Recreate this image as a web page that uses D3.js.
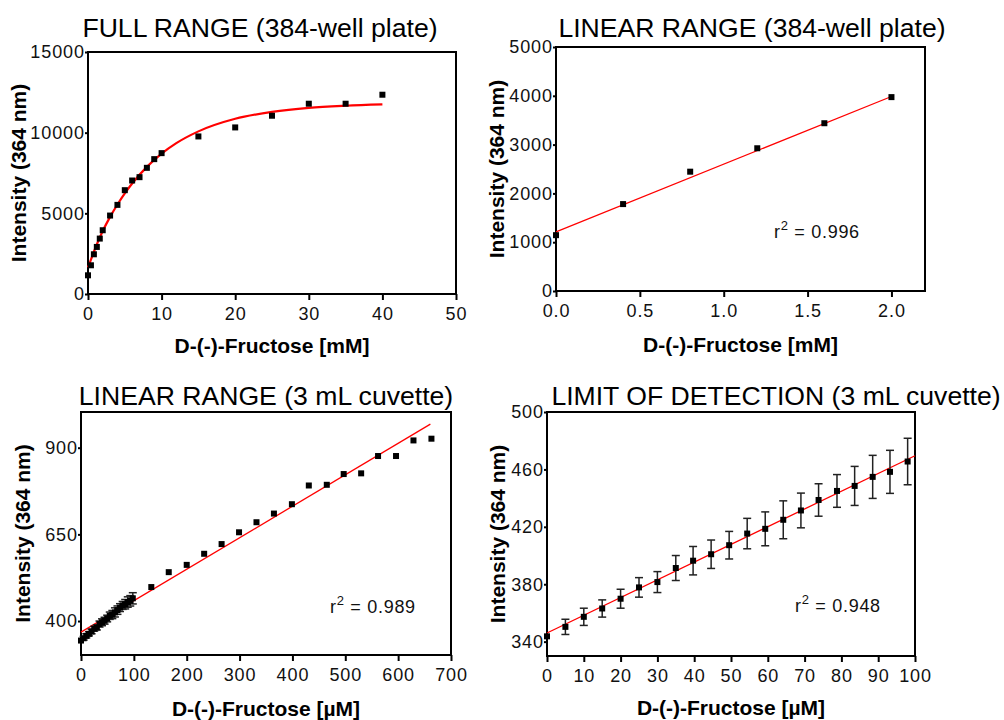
<!DOCTYPE html>
<html><head><meta charset="utf-8">
<script src="https://cdn.jsdelivr.net/npm/d3@7"></script>
<style>
body{margin:0;background:#fff;}
svg{display:block;font-family:Arial,"Liberation Sans",sans-serif;}
</style></head>
<body>
<svg id="chart" width="1004" height="720"></svg>
<script>
// ---- Panel 1: FULL RANGE (384-well plate) ----
const p1X = [0, 0.4, 0.8, 1.2, 1.6, 2, 3, 4, 5, 6, 7, 8, 9, 10, 15, 20, 25, 30, 35, 40];
const p1Y = [1159, 1780, 2462, 2917, 3435, 3952, 4862, 5524, 6435, 7035, 7242, 7821, 8359, 8731, 9766, 10325, 11050, 11794, 11794, 12352];
const p1FitX = [0, 0.5, 1, 2, 3, 4, 5, 6, 8, 10, 12, 15, 20, 25, 30, 35, 40];
const p1FitY = [1650, 2250, 2850, 3900, 4780, 5550, 6240, 6850, 7880, 8700, 9350, 10080, 10860, 11290, 11540, 11670, 11750];
const p1XTicks = [0, 10, 20, 30, 40, 50];
const p1YTicks = [0, 5000, 10000, 15000];

// ---- Panel 2: LINEAR RANGE (384-well plate) ----
const p2X = [0, 0.4, 0.8, 1.2, 1.6, 2.0];
const p2Y = [1144, 1781, 2445, 2925, 3438, 3973];
const p2FitX = [0, 2.0];
const p2FitY = [1212, 3986];
const p2XTicks = [0, 0.5, 1.0, 1.5, 2.0];
const p2YTicks = [0, 1000, 2000, 3000, 4000, 5000];

// ---- Panel 4 data: LIMIT OF DETECTION (3 mL cuvette) ----
const lodX = [0, 5, 10, 15, 20, 25, 30, 35, 39.7, 44.6, 49.5, 54.4, 59.3, 64.2, 69, 73.8, 78.8, 83.6, 88.5, 93.2, 98];
const lodY = [343.7, 350.3, 357.3, 363.1, 369.9, 377.8, 381.5, 391.3, 396.4, 400.9, 407.2, 415.3, 418.6, 424.9, 431.4, 438.7, 445, 448.5, 454.8, 458.3, 465.5];
const lodErr = [0, 5.3, 6, 6, 6.6, 6.8, 7.3, 8.7, 9.9, 9.9, 9.6, 10.6, 11.8, 13.2, 12.1, 11.3, 11.4, 13.6, 15, 15, 16.2];
const p4FitX = [0, 100];
const p4FitY = [346, 469.5];
const p4XTicks = [0, 10, 20, 30, 40, 50, 60, 70, 80, 90, 100];
const p4YTicks = [340, 380, 420, 460, 500];

// ---- Panel 3: LINEAR RANGE (3 mL cuvette) ----
const p3X = [133, 166, 200, 233, 266, 299, 332, 365, 399, 431, 465, 497, 530, 562, 596, 629, 663];
const p3Y = [498, 541, 562, 594, 622, 656, 685, 710, 737, 791, 793, 824, 826, 876, 876, 921, 926];
const p3FitX = [0, 661];
const p3FitY = [368, 968];
const p3XTicks = [0, 100, 200, 300, 400, 500, 600, 700];
const p3YTicks = [400, 650, 900];

const svg = d3.select("#chart");
const FONT = 'Arial,"Liberation Sans",sans-serif';

function panel(cfg) {
  const x = d3.scaleLinear().domain(cfg.xDomain).range([cfg.left, cfg.right]);
  const y = d3.scaleLinear().domain(cfg.yDomain).range([cfg.bottom, cfg.top]);
  const g = svg.append("g");

  // title
  g.append("text").attr("x", cfg.titleX).attr("y", cfg.titleY)
    .attr("text-anchor", "middle").attr("font-size", 26.6).attr("fill", "#000")
    .text(cfg.title);

  // axes
  const xa = g.append("g").attr("transform", `translate(0,${cfg.bottom})`)
    .call(d3.axisBottom(x).tickValues(cfg.xTicks).tickSize(6).tickPadding(7)
      .tickFormat(cfg.xFormat || d3.format("d")));
  const ya = g.append("g").attr("transform", `translate(${cfg.left},0)`)
    .call(d3.axisLeft(y).tickValues(cfg.yTicks).tickSize(3).tickPadding(1)
      .tickFormat(d3.format("d")));
  [xa, ya].forEach(a => {
    a.select(".domain").remove();
    a.selectAll(".tick line").attr("stroke", "#000").attr("stroke-width", 2);
    a.selectAll(".tick text").attr("font-size", 18).attr("letter-spacing", "0.9px")
      .attr("fill", "#111").attr("font-family", FONT);
  });
  ya.selectAll(".tick text").attr("dx", "0.9px");

  // frame
  g.append("rect").attr("x", cfg.left).attr("y", cfg.top)
    .attr("width", cfg.right - cfg.left).attr("height", cfg.bottom - cfg.top)
    .attr("fill", "none").attr("stroke", "#000").attr("stroke-width", 2);

  // axis titles
  g.append("text").attr("x", (cfg.left + cfg.right) / 2).attr("y", cfg.xTitleY)
    .attr("text-anchor", "middle").attr("font-size", 21).attr("font-weight", "bold")
    .text(cfg.xTitle);
  g.append("text").attr("transform", `translate(${cfg.yTitleX},${(cfg.top + cfg.bottom) / 2}) rotate(-90)`)
    .attr("text-anchor", "middle").attr("font-size", 21).attr("font-weight", "bold")
    .text("Intensity (364 nm)");

  // fit
  const line = d3.line().x(d => x(d[0])).y(d => y(d[1]));
  if (cfg.curve) line.curve(d3.curveMonotoneX);
  g.append("path").datum(d3.zip(cfg.fitX, cfg.fitY))
    .attr("d", line).attr("fill", "none").attr("stroke", "#ff0000")
    .attr("stroke-width", cfg.fitWidth);

  // error bars
  (cfg.err || []).forEach(eb => {
    const eg = g.append("g").attr("stroke", "#222").attr("stroke-width", 1.5);
    eb.xs.forEach((xv, i) => {
      const e = eb.errs[i];
      if (!e) return;
      const px = x(xv), y1 = y(eb.ys[i] - e), y2 = y(eb.ys[i] + e);
      eg.append("line").attr("x1", px).attr("x2", px).attr("y1", y1).attr("y2", y2);
      eg.append("line").attr("x1", px - 4).attr("x2", px + 4).attr("y1", y1).attr("y2", y1);
      eg.append("line").attr("x1", px - 4).attr("x2", px + 4).attr("y1", y2).attr("y2", y2);
    });
  });

  // points
  cfg.points.forEach(ps => {
    g.append("g").selectAll("rect").data(d3.zip(ps.xs, ps.ys)).join("rect")
      .attr("x", d => x(d[0]) - 3).attr("y", d => y(d[1]) - 3)
      .attr("width", 6).attr("height", 6).attr("fill", "#000");
  });

  // r2 label
  if (cfg.r2) {
    const t = g.append("text").attr("x", cfg.r2x).attr("y", cfg.r2y)
      .attr("font-size", 18).attr("letter-spacing", "0.7px").attr("fill", "#111");
    t.append("tspan").text("r");
    t.append("tspan").attr("dy", -8).attr("font-size", 13).text("2");
    t.append("tspan").attr("dy", 8).text(" = " + cfg.r2);
  }
}

panel({
  left: 88, right: 456, top: 52, bottom: 294,
  xDomain: [0, 50], yDomain: [0, 15000], xTicks: p1XTicks, yTicks: p1YTicks,
  title: "FULL RANGE (384-well plate)", titleX: 260, titleY: 37,
  xTitle: "D-(-)-Fructose [mM]", xTitleY: 353, yTitleX: 26,
  fitX: p1FitX, fitY: p1FitY, curve: true, fitWidth: 2.2,
  points: [{xs: p1X, ys: p1Y}]
});

panel({
  left: 556, right: 925, top: 47, bottom: 291,
  xDomain: [0, 2.2], yDomain: [0, 5000], xTicks: p2XTicks, yTicks: p2YTicks,
  xFormat: d3.format(".1f"),
  title: "LINEAR RANGE (384-well plate)", titleX: 752, titleY: 37,
  xTitle: "D-(-)-Fructose [mM]", xTitleY: 352, yTitleX: 504,
  fitX: p2FitX, fitY: p2FitY, fitWidth: 1.3,
  points: [{xs: p2X, ys: p2Y}],
  r2: "0.996", r2x: 774, r2y: 238
});

panel({
  left: 81, right: 451, top: 412, bottom: 655,
  xDomain: [0, 700], yDomain: [302, 1003], xTicks: p3XTicks, yTicks: p3YTicks,
  title: "LINEAR RANGE (3 mL cuvette)", titleX: 266, titleY: 405,
  xTitle: "D-(-)-Fructose [\u00B5M]", xTitleY: 716, yTitleX: 30,
  fitX: p3FitX, fitY: p3FitY, fitWidth: 1.3,
  err: [{xs: lodX, ys: lodY, errs: lodErr}],
  points: [{xs: lodX, ys: lodY}, {xs: p3X, ys: p3Y}],
  r2: "0.989", r2x: 330, r2y: 613
});

panel({
  left: 547, right: 915, top: 412, bottom: 656,
  xDomain: [0, 100], yDomain: [330, 500], xTicks: p4XTicks, yTicks: p4YTicks,
  title: "LIMIT OF DETECTION (3 mL cuvette)", titleX: 776, titleY: 405,
  xTitle: "D-(-)-Fructose [\u00B5M]", xTitleY: 715, yTitleX: 505,
  fitX: p4FitX, fitY: p4FitY, fitWidth: 1.3,
  err: [{xs: lodX, ys: lodY, errs: lodErr}],
  points: [{xs: lodX, ys: lodY}],
  r2: "0.948", r2x: 795, r2y: 612
});
</script>
</body></html>
